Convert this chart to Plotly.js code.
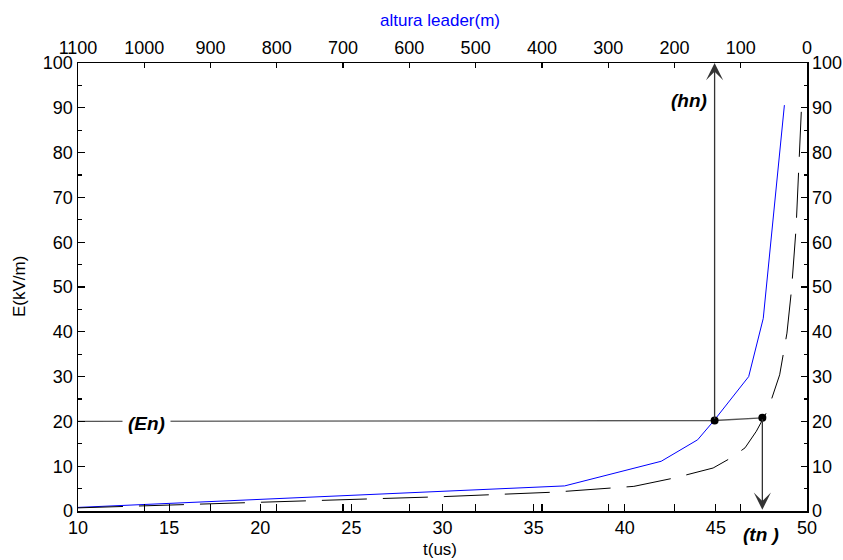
<!DOCTYPE html>
<html>
<head>
<meta charset="utf-8">
<script src="https://cdn.plot.ly/plotly-3.0.1.min.js"></script>
<style>html,body{margin:0;padding:0;background:#fff;}#chart{width:843px;height:560px;}</style>
</head>
<body>
<div id="chart"></div>
<script>
// Blue curve (solid)
const blueT = [10, 36.7, 42.0, 44.0, 44.9, 46.8, 47.6, 48.76];
const blueE = [0.8, 5.6, 11.1, 15.9, 20.2, 30.0, 43.0, 90.6];
// Black dashed curve
const dashT = [10, 15.8, 22.2, 30, 36.1, 40.5, 42.75, 44.85, 45.85, 46.6, 47.22, 47.86, 48.5, 48.9, 49.15, 49.4, 49.7];
const dashE = [0.7, 1.45, 2.2, 3.2, 4.2, 5.5, 7.4, 9.6, 11.9, 14.1, 17.8, 22.6, 30.4, 39.7, 49.4, 63.1, 90.3];
// Construction lines (En / hn / tn)
const enLineT = [10, 44.93, 47.55];
const enLineE = [20, 20.2, 20.8];
const dotT = [44.93, 47.55];
const dotE = [20.2, 20.8];
const hnTop = 100;
const tnBottom = 0.3;
// Axis settings
const tRange = [10, 50];
const hRange = [1100, 0];
const eRange = [0, 100];

const FAM = 'Liberation Sans, Arial, sans-serif';
const tickFont = {family: FAM, size: 18, color: '#000'};
const labelFont = {family: FAM, size: 19, color: '#000', weight: 'bold', style: 'italic'};
const gray = '#555';

const traces = [
  {x: enLineT, y: enLineE, mode: 'lines', line: {color: gray, width: 1.3}, xaxis: 'x', yaxis: 'y', hoverinfo: 'skip'},
  {x: blueT, y: blueE, mode: 'lines', line: {color: '#0000ff', width: 1}, xaxis: 'x', yaxis: 'y'},
  {x: dashT, y: dashE, mode: 'lines', line: {color: '#000', width: 1, dash: '45px,16px'}, xaxis: 'x', yaxis: 'y'},
  {x: dotT, y: dotE, mode: 'markers', marker: {color: '#000', size: 8}, xaxis: 'x', yaxis: 'y'},
  {x: [], y: [], mode: 'lines', xaxis: 'x2', yaxis: 'y', hoverinfo: 'skip'},
  {x: [], y: [], mode: 'lines', xaxis: 'x3', yaxis: 'y', hoverinfo: 'skip'},
  {x: [], y: [], mode: 'lines', xaxis: 'x', yaxis: 'y2', hoverinfo: 'skip'}
];

const layout = {
  width: 843, height: 560,
  margin: {l: 78, r: 36, t: 63, b: 49},
  paper_bgcolor: '#fff', plot_bgcolor: '#fff',
  showlegend: false,
  font: tickFont,
  xaxis: {range: tRange, dtick: 5, tick0: 0, ticks: 'inside', ticklen: 7, tickwidth: 1.2, tickcolor: '#000',
          showline: true, linecolor: '#000', linewidth: 1.5, showgrid: false, zeroline: false,
          tickfont: tickFont, side: 'bottom', anchor: 'y'},
  xaxis2: {range: hRange, dtick: 100, tick0: 0, ticks: 'inside', ticklen: 5, tickwidth: 1.2, tickcolor: '#000',
           showline: true, linecolor: '#000', linewidth: 1.5, showgrid: false, zeroline: false,
           tickfont: tickFont, side: 'top', overlaying: 'x', anchor: 'y'},
  xaxis3: {range: hRange, dtick: 100, tick0: 0, ticks: 'inside', ticklen: 7, tickwidth: 1.2, tickcolor: '#000',
           showline: false, showgrid: false, zeroline: false, showticklabels: false,
           side: 'bottom', overlaying: 'x', anchor: 'y'},
  yaxis: {range: eRange, dtick: 10, tick0: 0, ticks: 'inside', ticklen: 7, tickwidth: 1.2, tickcolor: '#000',
          minor: {dtick: 5, ticks: 'inside', ticklen: 4, tickcolor: '#000', tickwidth: 1.2},
          showline: true, linecolor: '#000', linewidth: 1.5, showgrid: false, zeroline: false,
          tickfont: tickFont, side: 'left', anchor: 'x'},
  yaxis2: {range: eRange, dtick: 10, tick0: 0, ticks: 'inside', ticklen: 6, tickwidth: 1.2, tickcolor: '#000',
           minor: {dtick: 5, ticks: 'inside', ticklen: 3, tickcolor: '#000', tickwidth: 1.2},
           showline: true, linecolor: '#000', linewidth: 1.5, showgrid: false, zeroline: false,
           tickfont: tickFont, side: 'right', overlaying: 'y', anchor: 'x'},
  annotations: [
    {x: dotT[0], y: hnTop, ax: dotT[0], ay: dotE[0], xref: 'x', yref: 'y', axref: 'x', ayref: 'y',
     text: '', showarrow: true, arrowhead: 3, arrowsize: 2.2, arrowwidth: 1.3, arrowcolor: '#333', standoff: 0},
    {x: dotT[1], y: tnBottom, ax: dotT[1], ay: dotE[1], xref: 'x', yref: 'y', axref: 'x', ayref: 'y',
     text: '', showarrow: true, arrowhead: 3, arrowsize: 2.2, arrowwidth: 1.3, arrowcolor: '#333', standoff: 0},
    {x: 13.76, y: 20, xref: 'x', yref: 'y', xanchor: 'center', yanchor: 'middle', text: '(En)', showarrow: false,
     font: labelFont, bgcolor: '#fff', borderpad: 5, yshift: -2},
    {x: 43.5, y: 91.7, xref: 'x', yref: 'y', xanchor: 'center', yanchor: 'middle', text: '(hn)', showarrow: false, font: labelFont},
    {x: 47.48, y: 0, xref: 'x', yref: 'paper', xanchor: 'center', yanchor: 'middle', yshift: -23, text: '(tn )', showarrow: false, font: labelFont},
    {x: 0.4966, y: 1.0, xref: 'paper', yref: 'paper', xanchor: 'center', yanchor: 'middle', yshift: 43, text: 'altura leader(m)', showarrow: false,
     font: {family: FAM, size: 17, color: '#0000ff'}},
    {x: 0.4966, y: 0, xref: 'paper', yref: 'paper', xanchor: 'center', yanchor: 'middle', yshift: -38, text: 't(us)', showarrow: false,
     font: {family: FAM, size: 17, color: '#000'}},
    {x: 0, y: 0.5, xref: 'paper', yref: 'paper', xanchor: 'center', yanchor: 'middle', xshift: -59, text: 'E(kV/m)', textangle: -90, showarrow: false,
     font: {family: FAM, size: 17, color: '#000'}}
  ]
};

Plotly.newPlot('chart', traces, layout, {staticPlot: true, displayModeBar: false});
</script>
</body>
</html>
